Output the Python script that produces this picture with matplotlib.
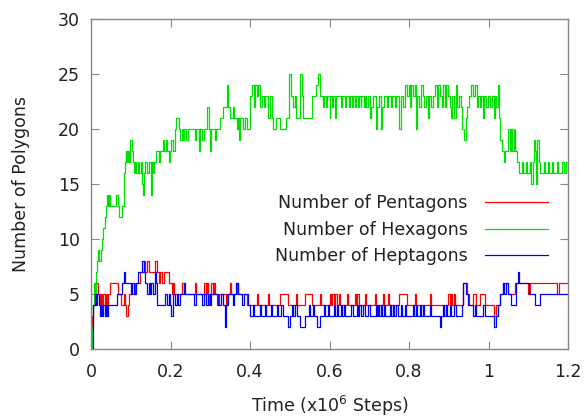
import matplotlib
matplotlib.use('Agg')
import matplotlib.pyplot as plt
from matplotlib.ticker import FuncFormatter

# time in units of 1e6 steps, value = number of polygons (step data)
pent_t = [0.000, 0.003, 0.006, 0.009, 0.013, 0.018, 0.022, 0.025, 0.028, 0.031, 0.034, 0.037, 0.040, 0.043,
          0.047, 0.068, 0.075, 0.082, 0.086, 0.089, 0.092, 0.096, 0.110, 0.122, 0.133, 0.137, 0.142, 0.145,
          0.160, 0.166, 0.170, 0.174, 0.178, 0.183, 0.196, 0.203, 0.206, 0.209, 0.230, 0.233, 0.262, 0.265,
          0.285, 0.288, 0.292, 0.295, 0.298, 0.303, 0.306, 0.310, 0.313, 0.318, 0.321, 0.340, 0.343, 0.350,
          0.353, 0.367, 0.370, 0.392, 0.418, 0.421, 0.445, 0.448, 0.475, 0.496, 0.515, 0.518, 0.538, 0.556,
          0.575, 0.578, 0.601, 0.604, 0.607, 0.610, 0.613, 0.619, 0.623, 0.626, 0.643, 0.646, 0.664, 0.667,
          0.670, 0.673, 0.690, 0.693, 0.714, 0.718, 0.735, 0.738, 0.747, 0.750, 0.776, 0.794, 0.814, 0.818,
          0.853, 0.856, 0.899, 0.902, 0.906, 0.909, 0.913, 0.916, 0.937, 0.945, 0.950, 0.962, 0.968, 0.979,
          0.991, 1.013, 1.019, 1.029, 1.037, 1.050, 1.066, 1.100, 1.104, 1.173, 1.177, 1.200]
pent_v = [0, 3, 4, 5, 6, 5, 4, 5, 4, 5, 4, 5, 4, 5,
          6, 5, 4, 5, 4, 3, 4, 5, 6, 7, 8, 7, 8, 7,
          8, 7, 6, 7, 6, 7, 6, 5, 6, 5, 6, 5, 6, 5,
          6, 5, 6, 4, 5, 6, 5, 6, 5, 4, 5, 4, 5, 6,
          5, 6, 5, 4, 5, 4, 5, 4, 5, 4, 5, 4, 5, 4,
          5, 4, 5, 4, 5, 4, 5, 4, 5, 4, 5, 4, 5, 4,
          5, 4, 5, 4, 5, 4, 5, 4, 5, 4, 5, 4, 5, 4,
          5, 4, 5, 4, 5, 4, 5, 4, 6, 5, 4, 5, 4, 5,
          4, 3, 4, 5, 6, 5, 6, 5, 6, 5, 6, 6]

hexa_t = [0.000, 0.002, 0.004, 0.007, 0.010, 0.012, 0.015, 0.018, 0.021, 0.024, 0.027, 0.030, 0.034, 0.038,
          0.041, 0.043, 0.046, 0.048, 0.064, 0.067, 0.070, 0.079, 0.082, 0.085, 0.087, 0.090, 0.092, 0.095,
          0.099, 0.102, 0.105, 0.108, 0.111, 0.114, 0.117, 0.121, 0.125, 0.129, 0.131, 0.133, 0.137, 0.142,
          0.147, 0.151, 0.153, 0.156, 0.159, 0.164, 0.170, 0.174, 0.180, 0.184, 0.188, 0.191, 0.195, 0.198,
          0.202, 0.206, 0.210, 0.214, 0.221, 0.225, 0.228, 0.232, 0.235, 0.240, 0.243, 0.262, 0.265, 0.272,
          0.275, 0.280, 0.283, 0.291, 0.296, 0.299, 0.302, 0.312, 0.315, 0.325, 0.333, 0.341, 0.345, 0.350,
          0.356, 0.360, 0.366, 0.369, 0.371, 0.374, 0.383, 0.387, 0.392, 0.400, 0.405, 0.410, 0.413, 0.418,
          0.421, 0.426, 0.430, 0.434, 0.438, 0.445, 0.449, 0.455, 0.459, 0.466, 0.476, 0.490, 0.498, 0.503,
          0.508, 0.512, 0.516, 0.526, 0.530, 0.534, 0.555, 0.565, 0.570, 0.575, 0.583, 0.586, 0.592, 0.594,
          0.600, 0.602, 0.606, 0.608, 0.614, 0.616, 0.630, 0.632, 0.640, 0.642, 0.650, 0.652, 0.657, 0.660,
          0.664, 0.666, 0.671, 0.673, 0.678, 0.680, 0.686, 0.688, 0.693, 0.696, 0.702, 0.705, 0.710, 0.716,
          0.720, 0.724, 0.730, 0.733, 0.737, 0.745, 0.748, 0.755, 0.758, 0.765, 0.768, 0.776, 0.779, 0.786,
          0.790, 0.795, 0.799, 0.803, 0.806, 0.810, 0.814, 0.817, 0.820, 0.826, 0.830, 0.834, 0.838, 0.842,
          0.848, 0.851, 0.856, 0.860, 0.866, 0.870, 0.873, 0.878, 0.882, 0.886, 0.890, 0.894, 0.898, 0.903,
          0.906, 0.908, 0.914, 0.917, 0.921, 0.925, 0.930, 0.934, 0.938, 0.943, 0.947, 0.952, 0.956, 0.962,
          0.965, 0.970, 0.974, 0.978, 0.982, 0.986, 0.989, 0.993, 0.998, 1.003, 1.008, 1.013, 1.016, 1.020,
          1.024, 1.027, 1.030, 1.035, 1.039, 1.042, 1.050, 1.053, 1.056, 1.059, 1.063, 1.066, 1.072, 1.076,
          1.084, 1.087, 1.094, 1.097, 1.104, 1.108, 1.111, 1.114, 1.117, 1.120, 1.123, 1.126, 1.130, 1.140,
          1.143, 1.150, 1.153, 1.160, 1.163, 1.172, 1.176, 1.185, 1.190, 1.195, 1.200]
hexa_v = [0, 2, 4, 6, 5, 7, 8, 9, 8, 9, 10, 11, 12, 13,
          14, 13, 14, 13, 14, 13, 12, 13, 16, 17, 18, 17, 18, 17,
          19, 18, 17, 16, 17, 16, 17, 16, 17, 15, 14, 16, 17, 16,
          17, 14, 17, 16, 17, 18, 17, 18, 19, 18, 19, 18, 17, 18,
          19, 18, 20, 21, 20, 19, 20, 19, 20, 19, 20, 19, 20, 18,
          20, 19, 20, 22, 20, 18, 20, 19, 20, 21, 22, 24, 22, 21,
          22, 21, 20, 21, 19, 21, 20, 21, 20, 23, 24, 22, 24, 23,
          24, 22, 23, 22, 23, 21, 23, 21, 20, 21, 20, 21, 25, 23,
          22, 23, 21, 25, 23, 21, 23, 24, 25, 23, 22, 23, 22, 23,
          21, 23, 22, 23, 21, 23, 22, 23, 22, 23, 22, 23, 22, 23,
          22, 23, 22, 23, 22, 23, 22, 23, 22, 23, 21, 22, 23, 20,
          22, 23, 20, 22, 23, 22, 23, 22, 23, 22, 23, 20, 23, 22,
          24, 23, 24, 22, 24, 23, 24, 20, 23, 22, 24, 23, 22, 23,
          21, 23, 22, 23, 24, 22, 24, 23, 22, 24, 22, 24, 23, 22,
          21, 23, 21, 24, 22, 23, 22, 20, 19, 21, 22, 23, 24, 23,
          24, 22, 23, 22, 23, 21, 23, 22, 23, 22, 23, 21, 23, 22,
          24, 21, 19, 18, 17, 18, 20, 18, 20, 18, 20, 18, 17, 16,
          17, 16, 17, 16, 17, 15, 17, 19, 18, 15, 19, 17, 16, 17,
          16, 17, 16, 17, 16, 17, 16, 17, 16, 17, 17]

hept_t = [0.000, 0.006, 0.009, 0.012, 0.016, 0.019, 0.022, 0.025, 0.028, 0.031, 0.034, 0.037, 0.040, 0.043,
          0.066, 0.078, 0.082, 0.086, 0.100, 0.104, 0.108, 0.112, 0.118, 0.127, 0.133, 0.137, 0.141, 0.146,
          0.149, 0.152, 0.155, 0.160, 0.163, 0.166, 0.186, 0.190, 0.195, 0.199, 0.202, 0.205, 0.212, 0.216,
          0.220, 0.224, 0.234, 0.237, 0.260, 0.263, 0.280, 0.284, 0.290, 0.294, 0.300, 0.303, 0.320, 0.326,
          0.331, 0.336, 0.339, 0.345, 0.356, 0.360, 0.365, 0.370, 0.380, 0.386, 0.395, 0.400, 0.408, 0.411,
          0.424, 0.427, 0.438, 0.441, 0.452, 0.456, 0.468, 0.471, 0.478, 0.483, 0.496, 0.500, 0.505, 0.508,
          0.514, 0.517, 0.526, 0.538, 0.548, 0.551, 0.558, 0.561, 0.569, 0.577, 0.585, 0.588, 0.595, 0.598,
          0.612, 0.615, 0.619, 0.622, 0.628, 0.631, 0.636, 0.639, 0.655, 0.658, 0.668, 0.671, 0.675, 0.678,
          0.685, 0.688, 0.698, 0.701, 0.716, 0.719, 0.722, 0.725, 0.729, 0.732, 0.736, 0.739, 0.752, 0.755,
          0.760, 0.763, 0.768, 0.771, 0.780, 0.783, 0.790, 0.793, 0.810, 0.813, 0.818, 0.821, 0.827, 0.830,
          0.835, 0.838, 0.852, 0.855, 0.877, 0.880, 0.886, 0.889, 0.893, 0.896, 0.903, 0.906, 0.912, 0.918,
          0.933, 0.937, 0.944, 0.948, 0.960, 0.965, 0.969, 0.985, 0.990, 1.013, 1.018, 1.025, 1.030, 1.036,
          1.040, 1.045, 1.048, 1.057, 1.070, 1.074, 1.077, 1.103, 1.116, 1.130, 1.200]
hept_v = [0, 4, 5, 4, 5, 4, 3, 4, 3, 4, 3, 4, 3, 4,
          5, 6, 7, 6, 5, 6, 5, 6, 7, 8, 7, 6, 5, 6,
          5, 6, 5, 7, 6, 4, 5, 4, 5, 4, 3, 5, 4, 5,
          4, 5, 6, 5, 4, 5, 4, 5, 4, 5, 4, 5, 4, 5,
          4, 2, 4, 5, 4, 5, 6, 5, 4, 5, 4, 3, 4, 3,
          4, 3, 4, 3, 4, 3, 4, 3, 4, 3, 2, 3, 4, 3,
          4, 3, 2, 3, 4, 3, 4, 3, 2, 3, 4, 3, 4, 3,
          4, 3, 4, 3, 4, 3, 4, 3, 4, 3, 4, 3, 4, 3,
          4, 3, 4, 3, 4, 3, 4, 3, 4, 3, 4, 3, 4, 3,
          4, 3, 4, 3, 4, 3, 4, 3, 4, 3, 4, 3, 4, 3,
          4, 3, 4, 3, 2, 3, 4, 3, 4, 3, 4, 3, 4, 3,
          4, 6, 5, 4, 3, 4, 3, 4, 3, 2, 3, 4, 5, 6,
          5, 6, 5, 4, 6, 7, 6, 5, 4, 5, 5]

labels = ['Number of Pentagons', 'Number of Hexagons', 'Number of Heptagons']
colors = ['#ff0000', '#00e000', '#0000ff']

fig = plt.figure(figsize=(5.85, 4.16), dpi=100)
ax = fig.add_axes([0.1556, 0.161, 0.8154, 0.793])

for t, v, lab, c in zip([pent_t, hexa_t, hept_t], [pent_v, hexa_v, hept_v], labels, colors):
    ax.step(t, v, where='post', color=c, lw=0.9, label=lab)

ax.set_xlim(0, 1.2)
ax.set_ylim(0, 30)
ax.set_xticks([0, 0.2, 0.4, 0.6, 0.8, 1.0, 1.2])
ax.set_yticks(range(0, 31, 5))
ax.xaxis.set_major_formatter(FuncFormatter(lambda x, p: '%g' % x))
ax.tick_params(direction='in', length=6, width=0.8, color='#888888', top=True, right=True,
               labelsize=12.5, labelcolor='#222222')
ax.tick_params(axis='x', pad=10)
ax.tick_params(axis='y', pad=8)
for s in ax.spines.values():
    s.set_color('#888888')
    s.set_linewidth(1)

ax.set_xlabel('Time (x10$^6$ Steps)', fontsize=12.5, labelpad=9, color='#222222')
ax.set_ylabel('Number of Polygons', fontsize=12.5, labelpad=20, color='#222222')

ax.legend(loc='center right', bbox_to_anchor=(0.99, 0.362), frameon=False, markerfirst=False,
          fontsize=12.5, handlelength=3.6, labelspacing=0.5, handletextpad=1.0,
          labelcolor='#222222')

plt.savefig('out.png', dpi=100)
